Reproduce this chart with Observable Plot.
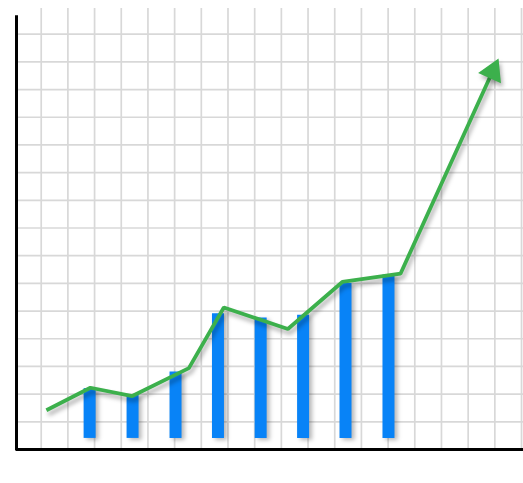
<!DOCTYPE html>
<html>
<head>
<meta charset="utf-8">
<script src="https://cdn.jsdelivr.net/npm/d3@7"></script>
<script src="https://cdn.jsdelivr.net/npm/@observablehq/plot@0.6"></script>
<style>
  html, body { margin: 0; padding: 0; background: #fff; }
  #chart svg { display: block; background: #fff; }
  .shadow-bars { filter: drop-shadow(3px 2px 2px rgba(0,0,0,0.28)); }
  .shadow-line { filter: drop-shadow(2px 4px 2px rgba(0,0,0,0.3)); }
</style>
</head>
<body>
<div id="chart"></div>
<script>
// Bars: position (grid units) and height (grid units)
const barX = [2.74, 4.35, 5.96, 7.55, 9.15, 10.74, 12.33, 13.94];
const barValues = [2.2, 1.95, 2.8, 4.9, 4.75, 4.85, 6.0, 6.3];
const barBase = 0.4;

// Trend line points
const lineX = [1.12, 2.77, 4.34, 6.46, 7.77, 10.17, 12.21, 14.39, 17.84];
const lineY = [1.42, 2.23, 1.93, 2.94, 5.13, 4.35, 6.05, 6.35, 13.65];

// Grid tick values
const gridXTicks = d3.range(0.926, 19, 1);
const gridYTicks = d3.range(1, 16, 1);

const bars = barX.map((x, i) => ({x, value: barValues[i]}));
const trend = lineX.map((x, i) => ({x, y: lineY[i]}));

const kx = 507 / 19, ky = 443 / 16;
const n = trend.length;
const dxp = (trend[n-1].x - trend[n-2].x) * kx;
const dyp = (trend[n-1].y - trend[n-2].y) * ky;
const angle = Math.atan2(dxp, dyp) * 180 / Math.PI;

const blue = "#0883f7";
const green = "#3cb04c";

const chart = Plot.plot({
  width: 523,
  height: 483,
  marginLeft: 16,
  marginRight: 0,
  marginTop: 6,
  marginBottom: 34,
  x: {domain: [0, 19], axis: null},
  y: {domain: [0, 16], axis: null},
  marks: [
    Plot.ruleX(gridXTicks, {y1: 0, y2: 15.93, stroke: "#d8d8d8", strokeWidth: 1.7}),
    Plot.ruleY(gridYTicks, {x1: 0, x2: 19, stroke: "#d8d8d8", strokeWidth: 1.7}),
    Plot.ruleX(bars, {x: "x", y1: barBase, y2: "value", stroke: blue, strokeWidth: 12}),
    Plot.line(trend, {x: "x", y: "y", stroke: green, strokeWidth: 3.8, strokeLinejoin: "miter", strokeLinecap: "butt"}),
    Plot.dot([trend[n-1]], {x: "x", y: "y", symbol: "triangle", r: 9.3, fill: green, stroke: "none", rotate: angle}),
    Plot.ruleX([0], {y1: -0.05, y2: 15.67, stroke: "#000", strokeWidth: 3}),
    Plot.ruleY([0], {x1: 0, x2: 19, stroke: "#000", strokeWidth: 3})
  ]
});
const rules = chart.querySelectorAll('g[aria-label="rule"]');
if (rules[2]) rules[2].classList.add("shadow-bars");
chart.querySelectorAll('g[aria-label="line"], g[aria-label="dot"]').forEach(g => g.classList.add("shadow-line"));
document.getElementById("chart").appendChild(chart);
</script>
</body>
</html>
